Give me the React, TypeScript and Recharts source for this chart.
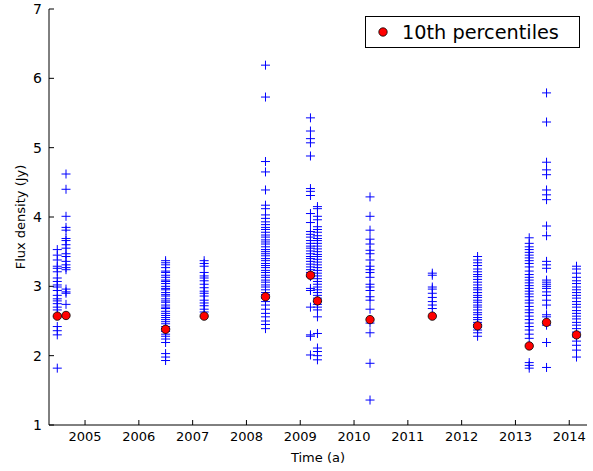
import React from "react";
import {
  ScatterChart,
  Scatter,
  XAxis,
  YAxis,
  Legend,
} from "recharts";

// Observation epochs (decimal years) and the 10th-percentile flux of each epoch
const EPOCHS = [
  2004.484, 2004.646, 2006.497, 2007.214, 2008.354, 2009.19, 2009.32,
  2010.297, 2011.455, 2012.296, 2013.256, 2013.578, 2014.135,
];
const P10 = [2.57, 2.58, 2.38, 2.57, 2.85, 3.16, 2.79, 2.52, 2.57, 2.43, 2.14, 2.48, 2.3];

// Individual flux density measurements (Jy), one list per epoch
const flux2004a = [3.53, 3.45, 3.38, 3.29, 3.26, 3.21, 3.12, 3.07, 3.02, 2.99, 2.94, 2.87, 2.82, 2.79, 2.75, 2.7, 2.66, 2.42, 2.36, 2.3, 1.82];
const flux2004b = [4.62, 4.4, 4.01, 3.85, 3.81, 3.69, 3.66, 3.6, 3.55, 3.47, 3.43, 3.36, 3.31, 3.27, 3.24, 2.96, 2.92, 2.9, 2.74];
const flux2006 = [3.37, 3.34, 3.31, 3.27, 3.22, 3.2, 3.16, 3.13, 3.09, 3.07, 3.04, 3.0, 2.97, 2.95, 2.91, 2.88, 2.86, 2.82, 2.79, 2.77, 2.73, 2.7, 2.68, 2.64, 2.61, 2.58, 2.55, 2.52, 2.49, 2.46, 2.42, 2.39, 2.35, 2.31, 2.28, 2.24, 2.19, 2.03, 1.98, 1.93];
const flux2007 = [3.37, 3.33, 3.29, 3.2, 3.15, 3.12, 3.08, 3.03, 2.98, 2.93, 2.9, 2.86, 2.8, 2.76, 2.72, 2.67, 2.63];
const flux2008 = [6.19, 5.73, 4.8, 4.65, 4.39, 4.17, 4.12, 4.03, 3.98, 3.93, 3.89, 3.85, 3.82, 3.78, 3.74, 3.71, 3.67, 3.64, 3.61, 3.57, 3.53, 3.5, 3.47, 3.44, 3.4, 3.37, 3.33, 3.3, 3.27, 3.23, 3.2, 3.16, 3.13, 3.09, 3.06, 3.02, 2.99, 2.95, 2.91, 2.88, 2.83, 2.78, 2.73, 2.67, 2.61, 2.56, 2.5, 2.45, 2.39];
const flux2009a = [5.43, 5.24, 5.13, 5.07, 4.88, 4.41, 4.37, 4.31, 4.05, 3.92, 3.79, 3.75, 3.71, 3.66, 3.62, 3.58, 3.55, 3.51, 3.47, 3.43, 3.4, 3.36, 3.32, 3.28, 3.24, 3.2, 3.14, 2.97, 2.94, 2.7, 2.3, 2.28, 2.01];
const flux2009b = [4.15, 4.12, 4.01, 3.96, 3.86, 3.82, 3.78, 3.73, 3.69, 3.66, 3.62, 3.58, 3.54, 3.5, 3.46, 3.43, 3.39, 3.35, 3.31, 3.27, 3.23, 3.19, 3.15, 3.11, 3.07, 3.03, 2.99, 2.95, 2.91, 2.87, 2.83, 2.78, 2.74, 2.7, 2.66, 2.56, 2.32, 2.11, 2.06, 2.0, 1.94];
const flux2010 = [4.29, 4.01, 3.81, 3.68, 3.61, 3.52, 3.47, 3.38, 3.29, 3.24, 3.2, 3.13, 3.03, 2.99, 2.94, 2.85, 2.8, 2.67, 2.47, 2.33, 1.89, 1.36];
const flux2011 = [3.19, 3.16, 2.99, 2.96, 2.9, 2.84, 2.78, 2.73, 2.68];
const flux2012 = [3.43, 3.38, 3.34, 3.3, 3.25, 3.21, 3.17, 3.14, 3.1, 3.06, 3.02, 2.98, 2.95, 2.91, 2.87, 2.84, 2.8, 2.77, 2.73, 2.7, 2.66, 2.62, 2.59, 2.55, 2.52, 2.48, 2.45, 2.41, 2.37, 2.33, 2.28];
const flux2013a = [3.7, 3.62, 3.57, 3.53, 3.49, 3.45, 3.41, 3.37, 3.33, 3.28, 3.22, 3.17, 3.13, 3.09, 3.05, 3.01, 2.97, 2.93, 2.89, 2.85, 2.8, 2.76, 2.71, 2.66, 2.62, 2.57, 2.52, 2.47, 2.42, 2.37, 2.31, 2.25, 1.9, 1.86, 1.82];
const flux2013b = [5.79, 5.37, 4.79, 4.68, 4.61, 4.39, 4.32, 4.25, 3.87, 3.73, 3.36, 3.31, 3.26, 3.09, 3.06, 3.03, 3.0, 2.97, 2.92, 2.87, 2.8, 2.73, 2.59, 2.56, 2.44, 2.19, 1.83];
const flux2014 = [3.29, 3.25, 3.19, 3.13, 3.08, 3.04, 2.99, 2.95, 2.91, 2.87, 2.83, 2.78, 2.74, 2.7, 2.65, 2.61, 2.57, 2.53, 2.48, 2.44, 2.39, 2.34, 2.27, 2.21, 2.15, 2.08, 1.98];

const FLUX_BY_EPOCH = [
  flux2004a, flux2004b, flux2006, flux2007, flux2008, flux2009a, flux2009b,
  flux2010, flux2011, flux2012, flux2013a, flux2013b, flux2014,
];

const YEAR_TICKS = [2005, 2006, 2007, 2008, 2009, 2010, 2011, 2012, 2013, 2014];
const FLUX_TICKS = [1, 2, 3, 4, 5, 6, 7];
const X_DOMAIN: [number, number] = [2004.33, 2014.33];
const Y_DOMAIN: [number, number] = [1, 7];

const measurements = FLUX_BY_EPOCH.flatMap((vals, i) =>
  vals.map((f) => ({ t: EPOCHS[i], f }))
);
const percentiles = EPOCHS.map((t, i) => ({ t, f: P10[i] }));

const FONT = "'DejaVu Sans', sans-serif";

const PlusMarker = (props: any) => {
  const { cx, cy } = props;
  if (cx == null || cy == null) return null;
  const h = 4.5;
  return (
    <path
      d={`M${cx - h},${cy}H${cx + h}M${cx},${cy - h}V${cy + h}`}
      stroke="#0000ff"
      strokeWidth={1}
      fill="none"
    />
  );
};

const DotMarker = (props: any) => {
  const { cx, cy } = props;
  if (cx == null || cy == null) return null;
  return <circle cx={cx} cy={cy} r={4.2} fill="#ff0000" stroke="#000" strokeWidth={0.8} />;
};

const LegendBox = () => (
  <div
    style={{
      border: "1px solid #000",
      background: "#fff",
      width: 215,
      height: 32,
      boxSizing: "border-box",
      display: "flex",
      alignItems: "center",
      fontFamily: FONT,
      fontSize: 19.3,
      color: "#000",
    }}
  >
    <svg width={36} height={20} style={{ flex: "none" }}>
      <circle cx={17} cy={10} r={4.2} fill="#ff0000" stroke="#000" strokeWidth={0.8} />
    </svg>
    <span style={{ whiteSpace: "nowrap" }}>10th percentiles</span>
  </div>
);

const tickStyle = { fontFamily: FONT, fontSize: 13, fill: "#000" };

export default function App() {
  return (
    <div style={{ position: "absolute", left: 0, top: 0, background: "#fff" }}>
      <ScatterChart
        width={593}
        height={471}
        margin={{ top: 9, right: 6, bottom: 0, left: 0 }}
      >
        <XAxis
          xAxisId="bottom"
          dataKey="t"
          type="number"
          domain={X_DOMAIN}
          ticks={YEAR_TICKS}
          interval={0}
          allowDataOverflow
          height={46}
          tickSize={-5}
          tickMargin={12}
          axisLine={{ stroke: "#000", strokeWidth: 1 }}
          tickLine={{ stroke: "#000", strokeWidth: 1 }}
          tick={tickStyle}
          label={{
            value: "Time (a)",
            position: "insideBottom",
            offset: 9,
            style: { fontFamily: FONT, fontSize: 13, fill: "#000" },
          }}
        />
        <XAxis
          xAxisId="top"
          orientation="top"
          type="number"
          domain={X_DOMAIN}
          ticks={YEAR_TICKS}
          interval={0}
          allowDataOverflow
          height={0}
          tickSize={-5}
          axisLine={{ stroke: "#000", strokeWidth: 1 }}
          tickLine={{ stroke: "#000", strokeWidth: 1 }}
          tick={false}
        />
        <YAxis
          yAxisId="left"
          dataKey="f"
          type="number"
          domain={Y_DOMAIN}
          ticks={FLUX_TICKS}
          interval={0}
          allowDataOverflow
          width={49}
          tickSize={-5}
          tickMargin={12}
          axisLine={{ stroke: "#000", strokeWidth: 1 }}
          tickLine={{ stroke: "#000", strokeWidth: 1 }}
          tick={{ ...tickStyle, fontSize: 14 }}
          label={{
            content: (p: any) => {
              const vb = p.viewBox || {};
              const cx = 20;
              const cy = (vb.y ?? 9) + (vb.height ?? 416) / 2;
              return (
                <text
                  x={cx}
                  y={cy}
                  transform={`rotate(-90 ${cx} ${cy})`}
                  textAnchor="middle"
                  dominantBaseline="central"
                  style={{ fontFamily: FONT, fontSize: 13, fill: "#000" }}
                >
                  Flux density (Jy)
                </text>
              );
            },
          }}
        />
        <YAxis
          yAxisId="right"
          orientation="right"
          type="number"
          domain={Y_DOMAIN}
          ticks={FLUX_TICKS}
          interval={0}
          allowDataOverflow
          width={0}
          tickSize={-5}
          axisLine={{ stroke: "#000", strokeWidth: 1 }}
          tickLine={{ stroke: "#000", strokeWidth: 1 }}
          tick={false}
        />
        <Scatter
          name="Flux density"
          data={measurements}
          xAxisId="bottom"
          yAxisId="left"
          shape={PlusMarker}
          isAnimationActive={false}
          legendType="none"
        />
        <Scatter
          name="10th percentiles"
          data={percentiles}
          xAxisId="bottom"
          yAxisId="left"
          shape={DotMarker}
          isAnimationActive={false}
        />
        <Legend
          layout="horizontal"
          verticalAlign="middle"
          align="center"
          content={() => <LegendBox />}
          wrapperStyle={{ top: 16, left: 365, width: 215, height: 32 }}
        />
      </ScatterChart>
    </div>
  );
}
